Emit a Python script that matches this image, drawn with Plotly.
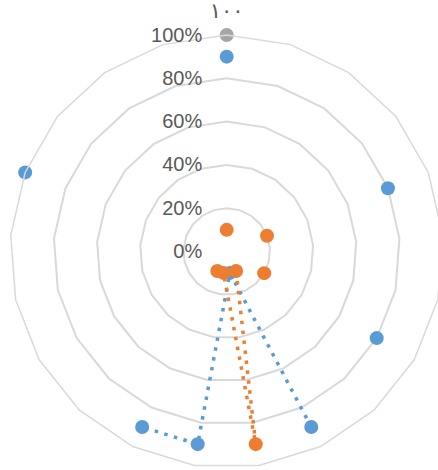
import plotly.graph_objects as go

# 21 categories, only the first has a visible label
categories = [f"c{i}" for i in range(21)]
category_labels = ["١٠٠"] + [""] * 20

blue = [0.90, None, None, None, 0.80, None, None, 0.80, None, 0.90, 0.10, 0.90, 0.90,
        None, None, None, None, 1.00, None, None, None]
orange = [0.10, None, None, None, 0.20, None, None, 0.20, None, 0.10, 0.90, 0.10, 0.10,
          None, None, None, None, 0.00, None, None, None]
grey = [1.00] + [None] * 20

radial_ticks = [0, 0.2, 0.4, 0.6, 0.8, 1.0]
radial_labels = ["0%", "20%", "40%", "60%", "80%", "100%"]

series = [
    ("Series1", blue, "#5B9BD5"),
    ("Series2", orange, "#ED7D31"),
    ("Series3", grey, "#A5A5A5"),
]

fig = go.Figure()
for name, vals, col in series:
    fig.add_trace(go.Scatterpolar(
        r=vals, theta=categories, name=name, mode="lines+markers",
        line=dict(color=col, width=3.5, dash="3.5px,6.5px"),
        marker=dict(color=col, size=14),
        connectgaps=False, showlegend=False,
    ))

W, H = 446, 470
cx, cy, R = 226.7, 251.5, 216.5
fig.update_layout(
    width=W, height=H,
    margin=dict(l=0, r=0, t=0, b=0),
    paper_bgcolor="white", plot_bgcolor="white",
    font=dict(family="Liberation Sans, Arial, sans-serif", color="#595959", size=20),
    polar=dict(
        domain=dict(x=[(cx - R) / W, (cx + R) / W],
                    y=[(H - cy - R) / H, (H - cy + R) / H]),
        bgcolor="white",
        gridshape="linear",
        angularaxis=dict(
            type="category", categoryorder="array", categoryarray=categories,
            rotation=90, direction="clockwise",
            showgrid=False, showline=True, linecolor="#d9d9d9", linewidth=1.5,
            ticks="outside", ticklen=8, tickcolor="rgba(0,0,0,0)",
            tickmode="array", tickvals=categories, ticktext=category_labels,
            tickfont=dict(size=21, color="#595959", family="DejaVu Sans"),
        ),
        radialaxis=dict(
            range=[0, 1], angle=90, side="counterclockwise",
            tickmode="array", tickvals=radial_ticks, ticktext=radial_labels,
            showline=False, ticks="outside", ticklen=17, tickcolor="rgba(0,0,0,0)",
            tickangle=90,
            gridcolor="#d9d9d9", gridwidth=1.5,
            tickfont=dict(size=20, color="#595959"),
        ),
    ),
)

fig.write_html("out.html")
